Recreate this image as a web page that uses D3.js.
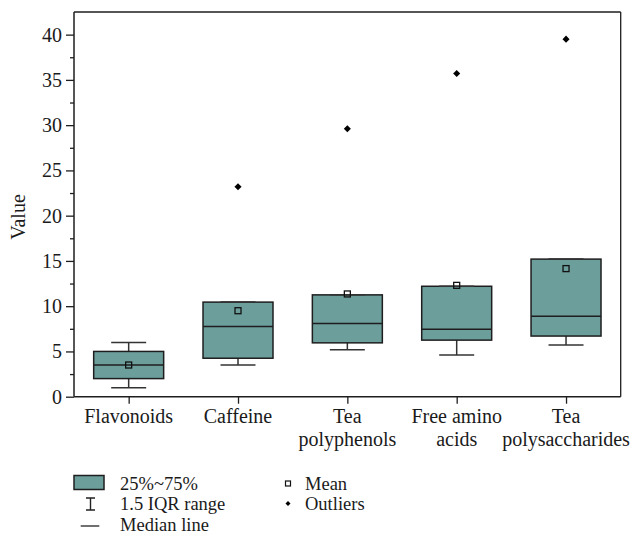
<!DOCTYPE html>
<html>
<head>
<meta charset="utf-8">
<script src="https://cdn.jsdelivr.net/npm/d3@7"></script>
<style>
  html, body { margin: 0; padding: 0; background: #fff; }
</style>
</head>
<body>
<svg id="chart" width="632" height="535"></svg>
<script>
// ---- data ----
const categories = ["Flavonoids", "Caffeine", "Tea polyphenols", "Free amino acids", "Tea polysaccharides"];
const categoryLines = [["Flavonoids"], ["Caffeine"], ["Tea", "polyphenols"], ["Free amino", "acids"], ["Tea", "polysaccharides"]];
const q1Values = [2.0, 4.25, 5.95, 6.25, 6.7];
const q3Values = [5.0, 10.45, 11.25, 12.2, 15.2];
const medianValues = [3.5, 7.75, 8.1, 7.45, 8.9];
const meanValues = [3.5, 9.5, 11.35, 12.3, 14.15];
const whiskerLowValues = [1.0, 3.5, 5.2, 4.6, 5.7];
const whiskerHighValues = [6.0, 10.45, 11.25, 12.2, 15.2];
const outlierValues = [null, 23.2, 29.6, 35.7, 39.5];
const yTickValues = [0, 5, 10, 15, 20, 25, 30, 35, 40];
const yMinorTickValues = [2.5, 7.5, 12.5, 17.5, 22.5, 27.5, 32.5, 37.5];
const yTitle = "Value";
const legendItems = ["25%~75%", "1.5 IQR range", "Median line", "Mean", "Outliers"];

(function () {
const FONT = "'Liberation Serif', 'Times New Roman', serif";
const TXT = "#1a1a1a";
const svg = d3.select("#chart").style("font-family", FONT);
const pL = 74, pR = 620.7, pT = 12, pB = 396.7;
const boxFill = "#6c9e9c";
const ink = "#1e1e1e";

const x = d3.scalePoint().domain(categories).range([pL, pR]).padding(0.5);
const y = d3.scaleLinear().domain([0, 42.5]).range([pB, pT]);
const boxW = x.step() * 0.64;
const capW = boxW * 0.5;

const data = categories.map((c, i) => ({
  c, q1: q1Values[i], q3: q3Values[i], med: medianValues[i], mean: meanValues[i],
  lo: whiskerLowValues[i], hi: whiskerHighValues[i], out: outlierValues[i]
}));

function txt(sel, size) {
  return sel.style("font-family", FONT).style("font-size", size + "px").attr("fill", TXT);
}

// frame (top and right)
svg.append("line").attr("x1", pL).attr("x2", pR).attr("y1", pT).attr("y2", pT)
  .attr("stroke", ink).attr("stroke-width", 1.3);
svg.append("line").attr("x1", pR).attr("x2", pR).attr("y1", pT).attr("y2", pB)
  .attr("stroke", ink).attr("stroke-width", 1.3);

// y axis
const yAxis = d3.axisLeft(y).tickValues(yTickValues).tickSize(8).tickPadding(4).tickFormat(d3.format("d"));
const gy = svg.append("g").attr("transform", `translate(${pL},0)`).call(yAxis);
gy.attr("font-family", null).attr("font-size", null);
gy.select(".domain").attr("d", `M0,${pT}V${pB}`).attr("stroke", ink).attr("stroke-width", 1.5);
gy.selectAll(".tick line").attr("stroke", ink).attr("stroke-width", 1.3);
txt(gy.selectAll(".tick text"), 20);
const gyMinor = svg.append("g").attr("transform", `translate(${pL},0)`)
  .call(d3.axisLeft(y).tickValues(yMinorTickValues).tickSize(4).tickFormat(""));
gyMinor.select(".domain").remove();
gyMinor.selectAll(".tick line").attr("stroke", ink).attr("stroke-width", 1.3);

// x axis
const xAxis = d3.axisBottom(x).tickSize(7).tickFormat("");
const gx = svg.append("g").attr("transform", `translate(0,${pB})`).call(xAxis);
gx.select(".domain").attr("d", `M${pL},0H${pR}`).attr("stroke", ink).attr("stroke-width", 1.5);
gx.selectAll(".tick line").attr("stroke", ink).attr("stroke-width", 1.3);

// category labels
categories.forEach((c, i) => {
  const t = txt(svg.append("text"), 20).attr("x", x(c)).attr("y", pB + 26.5)
    .attr("text-anchor", "middle");
  categoryLines[i].forEach((ln, j) => {
    t.append("tspan").attr("x", x(c)).attr("dy", j === 0 ? 0 : 22.4).text(ln);
  });
});

// y title
txt(svg.append("text"), 20).attr("transform", `translate(25,217) rotate(-90)`)
  .attr("text-anchor", "middle").text(yTitle);

// boxes
const g = svg.append("g");
const groups = g.selectAll("g.box").data(data).join("g").attr("class", "box");
groups.append("line")
  .attr("x1", d => x(d.c)).attr("x2", d => x(d.c))
  .attr("y1", d => y(d.lo)).attr("y2", d => y(d.q1))
  .attr("stroke", "#333").attr("stroke-width", 1.5);
groups.append("line")
  .attr("x1", d => x(d.c)).attr("x2", d => x(d.c))
  .attr("y1", d => y(d.hi)).attr("y2", d => y(d.q3))
  .attr("stroke", "#333").attr("stroke-width", 1.5);
groups.append("line")
  .attr("x1", d => x(d.c) - capW / 2).attr("x2", d => x(d.c) + capW / 2)
  .attr("y1", d => y(d.lo)).attr("y2", d => y(d.lo))
  .attr("stroke", "#333").attr("stroke-width", 1.5);
groups.append("rect")
  .attr("x", d => x(d.c) - boxW / 2).attr("width", boxW)
  .attr("y", d => y(d.q3)).attr("height", d => y(d.q1) - y(d.q3))
  .attr("fill", boxFill).attr("stroke", ink).attr("stroke-width", 1.5);
groups.append("line")
  .attr("x1", d => x(d.c) - capW / 2).attr("x2", d => x(d.c) + capW / 2)
  .attr("y1", d => y(d.hi)).attr("y2", d => y(d.hi))
  .attr("stroke", "#333").attr("stroke-width", 1.5);
groups.append("line")
  .attr("x1", d => x(d.c) - boxW / 2).attr("x2", d => x(d.c) + boxW / 2)
  .attr("y1", d => y(d.med)).attr("y2", d => y(d.med))
  .attr("stroke", ink).attr("stroke-width", 1.5);
groups.append("rect")
  .attr("x", d => x(d.c) - 3).attr("y", d => y(d.mean) - 3)
  .attr("width", 6).attr("height", 6)
  .attr("fill", "none").attr("stroke", "#111").attr("stroke-width", 1.3);
const diamond = d3.symbol().type(d3.symbolDiamond2).size(32);
g.selectAll("path.out").data(data.filter(d => d.out != null)).join("path")
  .attr("class", "out")
  .attr("transform", d => `translate(${x(d.c)},${y(d.out)})`)
  .attr("d", diamond).attr("fill", "#000");

// legend
const lg = svg.append("g");
const fs = 18.5;
lg.append("rect").attr("x", 74).attr("y", 475.5).attr("width", 30).attr("height", 14)
  .attr("fill", boxFill).attr("stroke", ink).attr("stroke-width", 1.5);
txt(lg.append("text"), fs).attr("x", 120).attr("y", 489.5).text(legendItems[0]);
lg.append("path").attr("d", "M86,498H95M90.5,498V510M86,510H95")
  .attr("stroke", "#222").attr("stroke-width", 1.4).attr("fill", "none");
txt(lg.append("text"), fs).attr("x", 120).attr("y", 510).text(legendItems[1]);
lg.append("line").attr("x1", 80.7).attr("x2", 99.3).attr("y1", 526).attr("y2", 526)
  .attr("stroke", "#333").attr("stroke-width", 1.4);
txt(lg.append("text"), fs).attr("x", 120).attr("y", 530.5).text(legendItems[2]);
lg.append("rect").attr("x", 285.5).attr("y", 481).attr("width", 5).attr("height", 5)
  .attr("fill", "none").attr("stroke", "#111").attr("stroke-width", 1.2);
txt(lg.append("text"), fs).attr("x", 305).attr("y", 489.5).text(legendItems[3]);
lg.append("path").attr("transform", "translate(288,503.5)").attr("d", d3.symbol().type(d3.symbolDiamond2).size(16))
  .attr("fill", "#000");
txt(lg.append("text"), fs).attr("x", 305).attr("y", 510).text(legendItems[4]);
})();
</script>
</body>
</html>
